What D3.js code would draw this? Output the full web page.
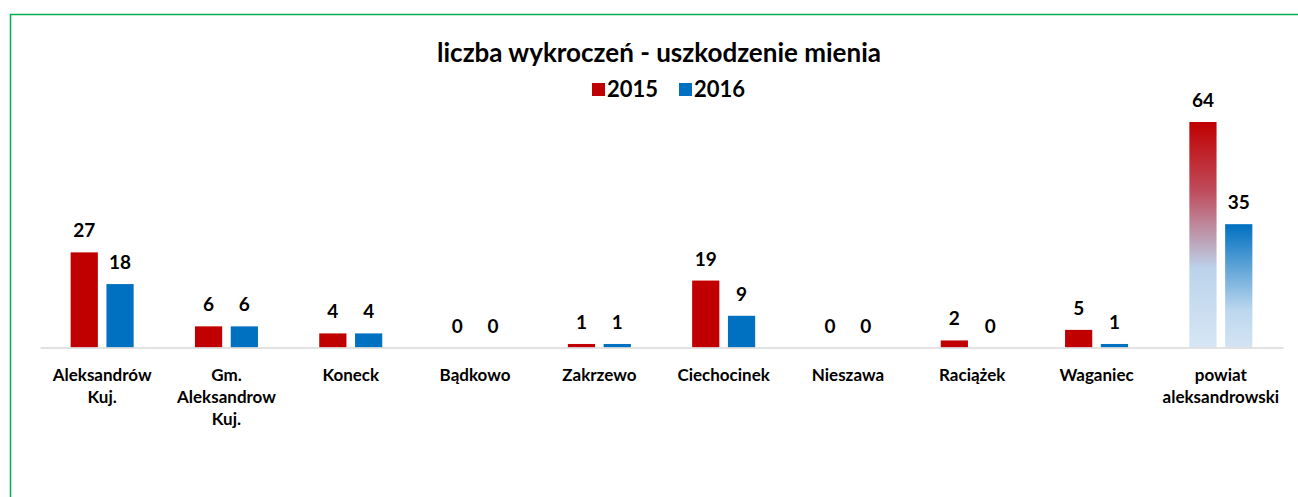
<!DOCTYPE html>
<html>
<head>
<meta charset="utf-8">
<script src="https://cdn.jsdelivr.net/npm/d3@7"></script>
<style>
  body { margin: 0; background: #fff; }
  svg { display: block; }
  text { font-family: Lato, "Open Sans", sans-serif; font-weight: bold; fill: #000; }
</style>
</head>
<body>
<svg id="chart"></svg>
<script>
// chart data
const categories = ["Aleksandrów\nKuj.", "Gm.\nAleksandrow\nKuj.", "Koneck", "Bądkowo", "Zakrzewo",
  "Ciechocinek", "Nieszawa", "Raciążek", "Waganiec", "powiat\naleksandrowski"];
const years = ["2015", "2016"];
const values2015 = [27, 6, 4, 0, 1, 19, 0, 2, 5, 64];
const values2016 = [18, 6, 4, 0, 1, 9, 0, 0, 1, 35];
const chartTitle = "liczba wykroczeń - uszkodzenie mienia";

const colors = { "2015": "#c00000", "2016": "#0070c0" };

const width = 1298, height = 497;
const margin = { left: 40, right: 15 };
const baseY = 347.5;

const svg = d3.select("#chart").attr("width", width).attr("height", height);

// green frame
svg.append("path")
  .attr("d", `M10.5,${height} V14.5 H${width}`)
  .attr("fill", "none")
  .attr("stroke", "#00b050")
  .attr("stroke-width", 1.5);

const data = categories.map((c, i) => ({ cat: c, vals: [
  { year: "2015", v: values2015[i] },
  { year: "2016", v: values2016[i] }
]}));

const x0 = d3.scaleBand()
  .domain(categories)
  .range([margin.left, width - margin.right])
  .padding(0);

const groupW = 63;
const x1 = d3.scaleBand()
  .domain(years)
  .range([(x0.bandwidth() - groupW) / 2, (x0.bandwidth() + groupW) / 2])
  .paddingInner(0.24);

const y = d3.scaleLinear()
  .domain([0, 64])
  .range([baseY, 122]);

// gradients for the last group
const defs = svg.append("defs");
const g15 = defs.append("linearGradient").attr("id", "grad2015")
  .attr("x1", 0).attr("y1", 0).attr("x2", 0).attr("y2", 1);
g15.append("stop").attr("offset", "0%").attr("stop-color", "#c00000");
g15.append("stop").attr("offset", "30%").attr("stop-color", "#bf4a5a");
g15.append("stop").attr("offset", "65%").attr("stop-color", "#bcd3eb");
g15.append("stop").attr("offset", "100%").attr("stop-color", "#d6e6f5");
const g16 = defs.append("linearGradient").attr("id", "grad2016")
  .attr("x1", 0).attr("y1", 0).attr("x2", 0).attr("y2", 1);
g16.append("stop").attr("offset", "0%").attr("stop-color", "#0070c0");
g16.append("stop").attr("offset", "70%").attr("stop-color", "#bdd7ee");
g16.append("stop").attr("offset", "100%").attr("stop-color", "#d3e4f4");

const lastCat = categories[categories.length - 1];

const groups = svg.append("g").selectAll("g")
  .data(data)
  .join("g")
  .attr("transform", d => `translate(${x0(d.cat)},0)`);

groups.selectAll("rect")
  .data(d => d.vals.filter(v => v.v > 0).map(v => ({ ...v, cat: d.cat })))
  .join("rect")
  .attr("x", d => x1(d.year))
  .attr("y", d => y(d.v))
  .attr("width", x1.bandwidth())
  .attr("height", d => baseY - y(d.v))
  .attr("fill", d => d.cat === lastCat ? `url(#grad${d.year})` : colors[d.year]);

// value labels
groups.selectAll("text.val")
  .data(d => d.vals)
  .join("text")
  .attr("class", "val")
  .attr("x", d => x1(d.year) + x1.bandwidth() / 2)
  .attr("y", d => y(d.v) - 15)
  .attr("text-anchor", "middle")
  .style("font-size", "19px")
  .text(d => d.v);

// axis
const xAxis = d3.axisBottom(x0).tickSize(0).tickFormat("");
const axisG = svg.append("g")
  .attr("transform", `translate(0,${baseY})`)
  .call(xAxis);
axisG.select(".domain").attr("stroke", "#d9d9d9").attr("stroke-width", 1.5);

// category labels (multi-line)
axisG.selectAll(".tick").each(function(d) {
  const t = d3.select(this).append("text")
    .attr("text-anchor", "middle")
    .style("font-size", "17px");
  d.split("\n").forEach((line, i) => {
    t.append("tspan").attr("x", 0).attr("y", 33 + i * 22).text(line);
  });
});

// title
svg.append("text")
  .attr("x", 659)
  .attr("y", 62)
  .attr("text-anchor", "middle")
  .style("font-size", "26px")
  .text(chartTitle);

// legend
const legend = svg.append("g").attr("transform", "translate(592,83)");
const legItems = legend.selectAll("g")
  .data(years)
  .join("g")
  .attr("transform", (d, i) => `translate(${i * 87},0)`);
legItems.append("rect").attr("width", 13).attr("height", 13).attr("fill", d => colors[d]);
legItems.append("text")
  .attr("x", 15).attr("y", 14)
  .style("font-size", "22px")
  .text(d => d);
</script>
</body>
</html>
